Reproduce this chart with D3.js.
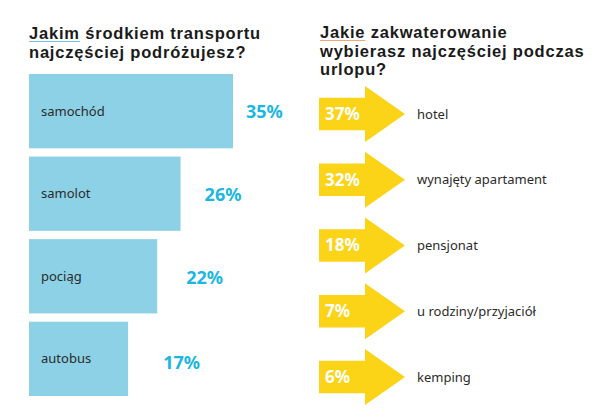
<!DOCTYPE html>
<html><head><meta charset="utf-8">
<script src="https://cdn.jsdelivr.net/npm/d3@7"></script>
<style>body{margin:0;background:#fff}svg{display:block}</style>
</head><body>
<script>
const transportCategories = ["samochód", "samolot", "pociąg", "autobus"];
const transportValues = [35, 26, 22, 17];
const stayCategories = ["hotel", "wynajęty apartament", "pensjonat", "u rodziny/przyjaciół", "kemping"];
const stayValues = [37, 32, 18, 7, 6];
const leftTitle = ["Jakim środkiem transportu", "najczęściej podróżujesz?"];
const rightTitle = ["Jakie zakwaterowanie", "wybierasz najczęściej podczas", "urlopu?"];

const W = 610, H = 420;
const FONT = "'Noto Sans', 'DejaVu Sans', sans-serif";
const TFONT = "'Liberation Sans', Arial, sans-serif";
const svg = d3.select("body").append("svg").attr("width", W).attr("height", H);

// Titles
function title(lines, x, y0, lh, ulColor) {
  const g = svg.append("g");
  let firstWordW = 0;
  lines.forEach((l, i) => {
    const t = g.append("text").attr("font-family", TFONT).attr("font-weight", 700)
      .attr("font-size", 16.5).attr("letter-spacing", 0.8).attr("fill", "#1a1a1a")
      .attr("x", x).attr("y", y0 + i * lh);
    if (i === 0) {
      const sp = l.indexOf(" ");
      const w = t.append("tspan").text(l.slice(0, sp));
      t.append("tspan").text(l.slice(sp));
      firstWordW = w.node().getComputedTextLength();
    } else {
      t.text(l);
    }
  });
  g.append("line").attr("x1", x).attr("x2", x + firstWordW).attr("y1", y0 + 2.5).attr("y2", y0 + 2.5)
    .attr("stroke", ulColor).attr("stroke-width", 1.2);
}
title(leftTitle, 29, 39, 18.5, "#6fc6ea");
title(rightTitle, 320, 38, 18.5, "#f0a878");

// Left: horizontal bars
const x = d3.scaleLinear().domain([0, 35]).range([29, 233]);
const y = d3.scaleBand().domain(transportCategories).range([74, 396]).paddingInner(0.1);
const labelX = d3.scaleLinear().domain([0, 35]).range([85, 246]);
const tdata = transportCategories.map((c, i) => ({c, v: transportValues[i]}));

svg.append("g").selectAll("rect").data(tdata).join("rect")
  .attr("x", x(0)).attr("y", d => y(d.c))
  .attr("width", d => x(d.v) - x(0)).attr("height", y.bandwidth())
  .attr("fill", "#8dd1e6");
svg.append("g").selectAll("text").data(tdata).join("text")
  .attr("x", x(0) + 12).attr("y", d => y(d.c) + y.bandwidth() / 2)
  .attr("dy", "0.35em").attr("font-family", FONT).attr("font-size", 13)
  .attr("fill", "#2b2b2b").text(d => d.c);
svg.append("g").selectAll("text").data(tdata).join("text")
  .attr("x", d => labelX(d.v)).attr("y", (d, i) => y(d.c) + y.bandwidth() / 2 + (i === 3 ? 4 : 1))
  .attr("dy", "0.35em").attr("font-family", FONT).attr("font-weight", 700).attr("font-size", 18)
  .attr("fill", "#1cb6e2").text(d => d.v + "%");

// Right: arrows
const ya = d3.scaleBand().domain(stayCategories).range([86, 405]).paddingInner(0.15);
const sdata = stayCategories.map((c, i) => ({c, v: stayValues[i]}));
const ax = 319, bodyW = 46, headW = 40;
function arrowPath(top, h) {
  const cy = top + h / 2, bh = h * 0.29, hh = h / 2;
  return `M${ax},${cy - bh}H${ax + bodyW}V${cy - hh}L${ax + bodyW + headW},${cy}L${ax + bodyW},${cy + hh}V${cy + bh}H${ax}Z`;
}
svg.append("g").selectAll("path").data(sdata).join("path")
  .attr("d", d => arrowPath(ya(d.c), ya.bandwidth())).attr("fill", "#fcd417");
svg.append("g").selectAll("text").data(sdata).join("text")
  .attr("x", ax + 6).attr("y", d => ya(d.c) + ya.bandwidth() / 2)
  .attr("dy", "0.35em").attr("font-family", FONT).attr("font-weight", 700).attr("font-size", 17)
  .attr("fill", "#fff").text(d => d.v + "%");
svg.append("g").selectAll("text").data(sdata).join("text")
  .attr("x", 417).attr("y", d => ya(d.c) + ya.bandwidth() / 2)
  .attr("dy", "0.35em").attr("font-family", FONT).attr("font-size", 13)
  .attr("fill", "#2b2b2b").text(d => d.c);
</script>
</body></html>
